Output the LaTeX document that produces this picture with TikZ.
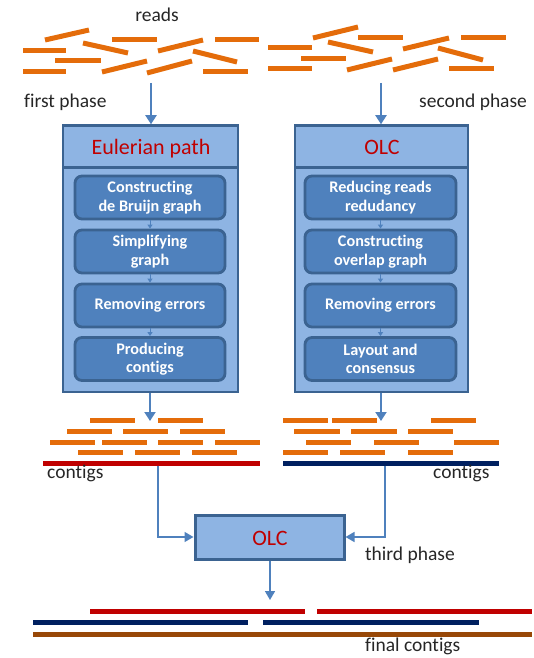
\documentclass[tikz,border=0pt]{standalone}
\usepackage{fontspec}
\setmainfont{Carlito}[Ligatures=CommonOff]
\usetikzlibrary{arrows.meta}
\definecolor{readc}{HTML}{E46C0A}
\definecolor{arrc}{HTML}{4F81BD}
\definecolor{lightf}{HTML}{8EB4E3}
\definecolor{darkb}{HTML}{3B6391}
\definecolor{innerf}{HTML}{4F81BD}
\definecolor{redc}{HTML}{C00000}
\definecolor{navyc}{HTML}{002060}
\definecolor{brownc}{HTML}{984807}
\tikzset{
  read/.style={line width=5pt, readc},
  lbl/.style={inner sep=0pt, font=\fontsize{19.5}{22}\selectfont, text=black!85},
  outerbox/.style={draw=darkb, line width=2.5pt, fill=lightf, inner sep=0pt},
  title/.style={inner sep=0pt, text=redc, font=\fontsize{22}{24}\selectfont},
  stepbox/.style={draw=darkb, line width=2.8pt, fill=innerf, rounded corners=7pt,
    minimum height=43pt, inner sep=0pt, align=center, text=white,
    font=\bfseries\fontsize{16.2}{18.5}\selectfont},
  mainarrow/.style={draw=arrc, line width=2pt, -{Triangle[width=11pt,length=9pt]}},
  smallarrow/.style={draw=arrc, line width=1pt, -{Triangle[width=5pt,length=4pt]}},
  conarrow/.style={draw=arrc, line width=1.6pt, -{Triangle[width=10pt,length=9pt]}},
  contig/.style={line width=5pt},
}
\begin{document}
\begin{tikzpicture}[x=1pt,y=-1pt]
\useasboundingbox (0,0) rectangle (534,658);
% reads top
\foreach \a/\b/\c/\d in {45/40/89/30, 23/51/66/51, 83/43/128/53, 112/40/157/40,
  158/51/203/40, 215/40/259/40, 55/61/101/61, 102/72/147/61, 147/73/192/61,
  193/51/237/62, 23/72/66/72, 203/72/248/72,
  268/48/312/48, 313/38/358/27, 328/42/373/52, 358/38/403/38, 301/59/346/59,
  268/69/312/69, 347/70/392/59, 393/70/438/59, 403/49/449/38, 438/48/483/60,
  461/38/506/38, 449/69/494/69}
  \draw[read] (\a,\b) -- (\c,\d);
\node[lbl, anchor=base] (reads) at (157,22) {reads};
\node[lbl, anchor=base west] (fp) at (24,107) {first phase};
\node[lbl, anchor=base west] (sp) at (419,107) {second phase};
% left outer
\node[outerbox, minimum width=175pt, minimum height=225pt] (lbody) at (150.5,279.5) {};
\node[outerbox, minimum width=175pt, minimum height=42pt] (lhead) at (150.5,146.5) {};
\node[title, anchor=base] (ltitle) at (151,154) {Eulerian path};
% right outer
\node[outerbox, minimum width=173pt, minimum height=225pt] (rbody) at (381.5,279.5) {};
\node[outerbox, minimum width=173pt, minimum height=42pt] (rhead) at (381.5,146.5) {};
\node[title, anchor=base] (rtitle) at (382,154) {OLC};
% left steps
\node[stepbox, minimum width=150pt] (l1) at (150,197.5) {Constructing\\de Bruijn graph};
\node[stepbox, minimum width=150pt] (l2) at (150,251.5) {Simplifying\\graph};
\node[stepbox, minimum width=150pt] (l3) at (150,305.5) {Removing errors};
\node[stepbox, minimum width=150pt] (l4) at (150,359) {Producing\\contigs};
% right steps
\node[stepbox, minimum width=151pt] (r1) at (380.5,197.5) {Reducing reads\\redudancy};
\node[stepbox, minimum width=151pt] (r2) at (380.5,251.5) {Constructing\\overlap graph};
\node[stepbox, minimum width=151pt] (r3) at (380.5,305.5) {Removing errors};
\node[stepbox, minimum width=151pt] (r4) at (380.5,359) {Layout and\\consensus};
\draw[smallarrow] (l1) -- (l2);
\draw[smallarrow] (l2) -- (l3);
\draw[smallarrow] (l3) -- (l4);
\draw[smallarrow] (r1) -- (r2);
\draw[smallarrow] (r2) -- (r3);
\draw[smallarrow] (r3) -- (r4);
% arrows into boxes
\coordinate (la) at (151,83);
\coordinate (ra) at (381,83);
\draw[mainarrow] (la) -- (la |- lhead.north);
\draw[mainarrow] (ra) -- (ra |- rhead.north);
% arrows out of boxes
\coordinate (lo) at (150,421);
\coordinate (ro) at (381,421);
\draw[mainarrow] (lo |- lbody.south) -- (lo);
\draw[mainarrow] (ro |- rbody.south) -- (ro);
% contig reads
\foreach \y/\a/\b in {420/90/135, 420/158/203, 431/67/112, 431/123/168, 431/180/225,
  442/50/95, 442/102/147, 442/158/203, 442/215/260, 452/78/123, 452/135/180, 452/192/237,
  420/283/328, 420/332/377, 420/431/476, 431/294/340, 431/351/397, 431/408/453,
  442/306/351, 442/374/419, 442/454/499, 452/283/328, 452/340/385, 452/408/453}
  \draw[read] (\a,\y) -- (\b,\y);
\draw[contig, redc] (43,463) -- (260,463);
\draw[contig, navyc] (283,463) -- (499,463);
\node[lbl, anchor=base west] (lc) at (47,478) {contigs};
\node[lbl, anchor=base west] (rc) at (433,478) {contigs};
% third phase
\node[outerbox, line width=3pt, minimum width=149pt, minimum height=44pt] (olc3) at (269.5,537) {};
\node[title, anchor=base] (t3) at (270,545) {OLC};
\node[lbl, anchor=base west] (tp) at (365,560) {third phase};
\coordinate (lcon) at (158,465.5);
\coordinate (rcon) at (385,465.5);
\draw[conarrow] (lcon) |- (olc3.west);
\draw[conarrow] (rcon) |- (olc3.east);
\coordinate (fin) at (270,600);
\draw[conarrow] (olc3.south -| fin) -- (fin);
% final contigs
\draw[contig, redc] (90,611) -- (305,611);
\draw[contig, redc] (317,611) -- (532,611);
\draw[contig, navyc] (33,622) -- (248,622);
\draw[contig, navyc] (263,622) -- (479,622);
\draw[contig, brownc] (33,634) -- (532,634);
\node[lbl, anchor=base west] (fc) at (365,651) {final contigs};
\end{tikzpicture}
\end{document}
